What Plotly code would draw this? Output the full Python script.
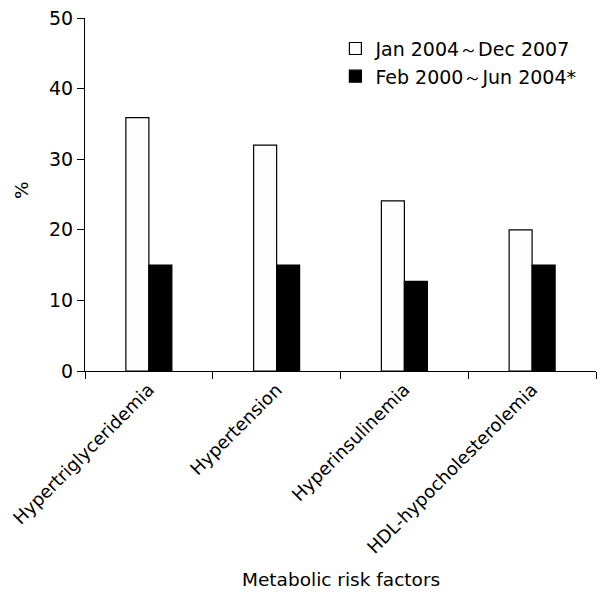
import plotly.graph_objects as go

categories = ["Hypertriglyceridemia", "Hypertension", "Hyperinsulinemia", "HDL-hypocholesterolemia"]
series_2004_2007 = [35.9, 32.0, 24.1, 20.0]
series_2000_2004 = [15.0, 15.0, 12.7, 15.0]
name_a = "Jan 2004\uff5eDec 2007"
name_b = "Feb 2000\uff5eJun 2004*"
y_ticks = [0, 10, 20, 30, 40, 50]
x_title = "Metabolic risk factors"
y_title = "%"

FONT = "DejaVu Sans, Arial, sans-serif"

fig = go.Figure()
fig.add_trace(go.Bar(x=categories, y=series_2004_2007, name=name_a,
                     marker=dict(color="#fdfdfd", line=dict(color="black", width=1.2))))
fig.add_trace(go.Bar(x=categories, y=series_2000_2004, name=name_b,
                     marker=dict(color="black", line=dict(color="black", width=1.2))))

fig.update_layout(
    width=600, height=599,
    margin=dict(l=85, r=4, t=18, b=228, autoexpand=False),
    paper_bgcolor="white", plot_bgcolor="white",
    barmode="group", bargap=0.64, bargroupgap=0,
    font=dict(family=FONT, size=18, color="black"),
    showlegend=True,
    legend=dict(x=0.49, y=0.967, xanchor="left", yanchor="top",
                font=dict(size=19), bgcolor="rgba(0,0,0,0)",
                tracegroupgap=0, itemwidth=30),
    annotations=[
        dict(text=x_title, xref="paper", yref="paper", x=0.5, y=-0.592,
             xanchor="center", yanchor="middle", showarrow=False,
             font=dict(size=18.5)),
        dict(text=y_title, xref="paper", yref="paper", x=-0.123, y=0.513,
             xanchor="center", yanchor="middle", showarrow=False, textangle=-90,
             font=dict(size=18.5)),
    ],
)
fig.update_xaxes(
    type="category", range=[-0.5, 3.5], automargin=False,
    showline=True, linecolor="black", linewidth=1.2,
    ticks="outside", ticklen=7, tickcolor="black", tickwidth=1.2,
    tickson="boundaries", tickangle=-45,
    tickfont=dict(size=18),
    showgrid=False, zeroline=False,
)
fig.update_yaxes(
    range=[0, 50], tickvals=y_ticks, automargin=False,
    showline=True, linecolor="black", linewidth=1.2,
    ticks="outside", ticklen=7, tickcolor="black", tickwidth=1.2,
    tickfont=dict(size=19),
    showgrid=False, zeroline=False,
)
fig.write_html("out.html",
               config={"displayModeBar": False},
               post_script="document.body.style.margin='0';document.body.style.overflow='hidden';")
